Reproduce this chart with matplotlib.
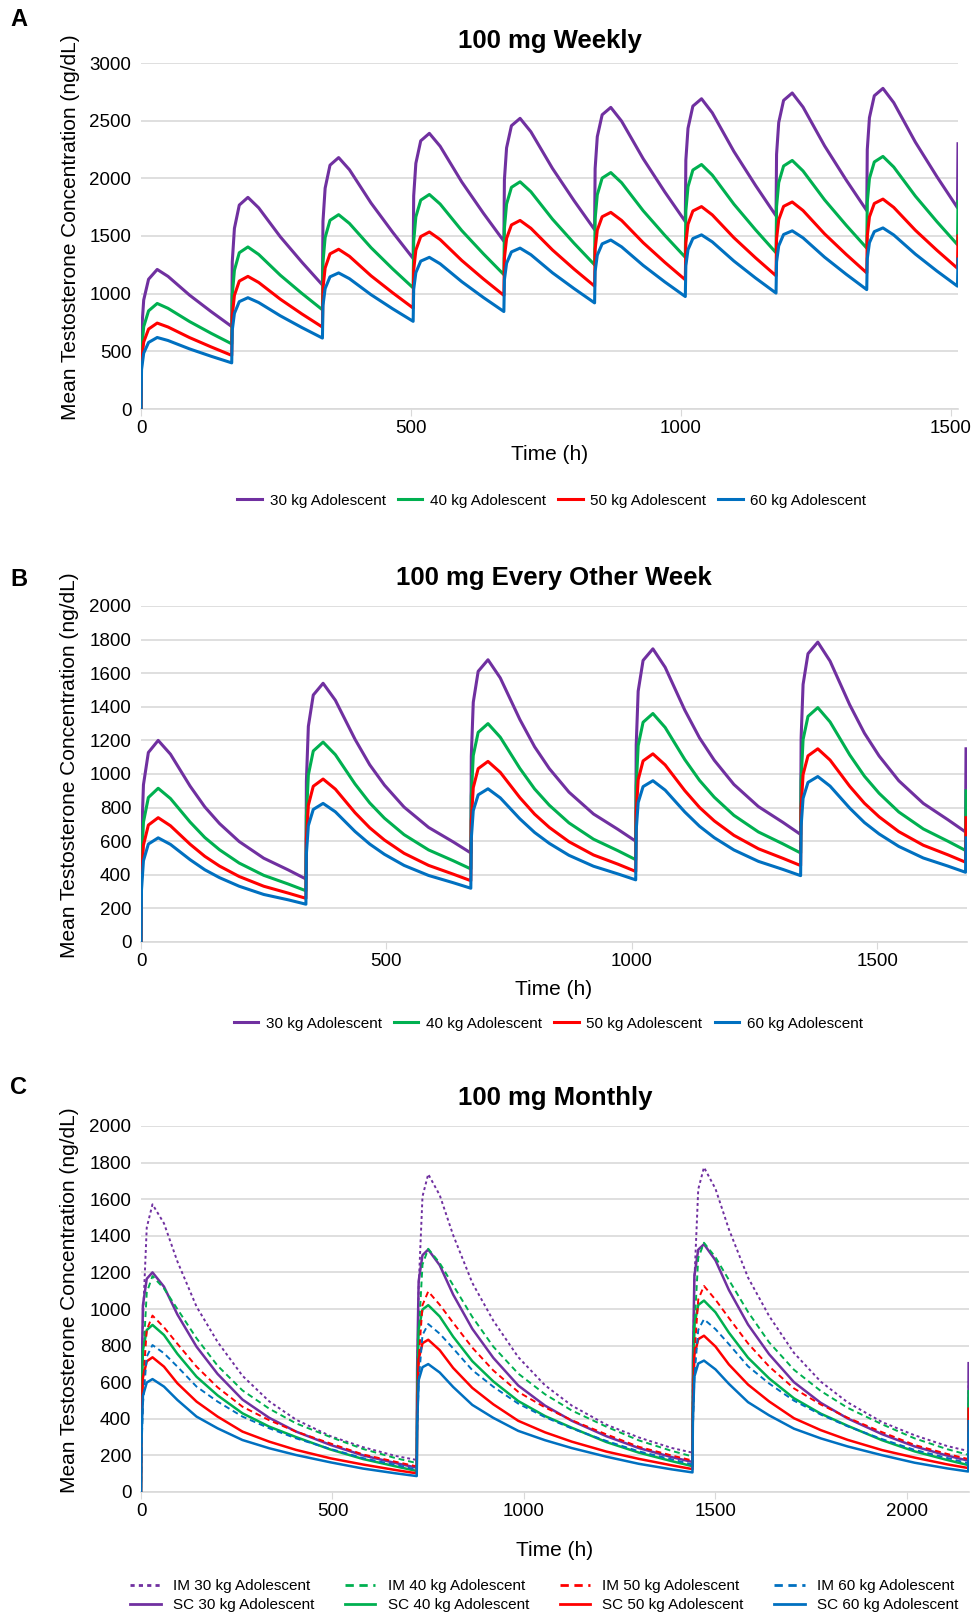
import matplotlib
matplotlib.use("Agg")
import matplotlib.pyplot as plt

plt.rcParams['font.family'] = ['Liberation Sans', 'DejaVu Sans']

colors = ['#7030A0', '#00B050', '#FF0000', '#0070C0']
weights = ['30 kg Adolescent', '40 kg Adolescent', '50 kg Adolescent', '60 kg Adolescent']

# ---- A: 100 mg weekly (doses every 168 h) ----
doses_a = [0, 168, 336, 504, 672, 840, 1008, 1176, 1344]
offs_a = [0, 1, 5, 14, 30, 50, 90, 130]
end_a = [1512, 1513]
a_30 = [0, 665, 945, 1125, 1210, 1150, 987, 844,
        715, 1275, 1566, 1768, 1835, 1744, 1493, 1273,
        1075, 1628, 1915, 2114, 2180, 2075, 1786, 1533,
        1305, 1848, 2130, 2325, 2390, 2278, 1969, 1698,
        1455, 1988, 2264, 2456, 2520, 2404, 2086, 1806,
        1555, 2085, 2361, 2551, 2615, 2496, 2170, 1882,
        1625, 2158, 2434, 2626, 2690, 2568, 2233, 1939,
        1675, 2208, 2484, 2676, 2740, 2618, 2281, 1985,
        1720, 2250, 2526, 2716, 2780, 2656, 2314, 2014,
        1745, 2300]
a_40 = [0, 503, 714, 851, 915, 873, 758, 656,
        565, 985, 1203, 1355, 1405, 1340, 1160, 1002,
        860, 1273, 1487, 1636, 1685, 1609, 1399, 1215,
        1050, 1455, 1666, 1811, 1860, 1777, 1547, 1346,
        1165, 1568, 1777, 1922, 1970, 1884, 1646, 1437,
        1250, 1650, 1858, 2002, 2050, 1962, 1719, 1506,
        1315, 1718, 1927, 2072, 2120, 2028, 1776, 1554,
        1355, 1755, 1963, 2107, 2155, 2064, 1813, 1593,
        1395, 1793, 1999, 2142, 2190, 2098, 1846, 1624,
        1425, 1800]
a_50 = [0, 410, 581, 693, 745, 711, 619, 538,
        465, 808, 986, 1109, 1150, 1097, 952, 824,
        710, 1048, 1223, 1345, 1385, 1324, 1155, 1008,
        875, 1205, 1377, 1495, 1535, 1469, 1288, 1128,
        985, 1310, 1479, 1596, 1635, 1567, 1379, 1213,
        1065, 1385, 1551, 1667, 1705, 1635, 1442, 1272,
        1120, 1438, 1603, 1717, 1755, 1683, 1485, 1311,
        1155, 1475, 1641, 1757, 1795, 1721, 1518, 1340,
        1180, 1500, 1666, 1782, 1820, 1748, 1550, 1376,
        1220, 1500]
a_60 = [0, 341, 484, 577, 620, 594, 521, 457,
        400, 683, 829, 931, 965, 923, 808, 706,
        615, 898, 1044, 1146, 1180, 1130, 991, 869,
        760, 1038, 1182, 1282, 1315, 1259, 1104, 967,
        845, 1120, 1263, 1362, 1395, 1338, 1181, 1044,
        920, 1193, 1334, 1432, 1465, 1406, 1245, 1102,
        975, 1243, 1382, 1478, 1510, 1449, 1283, 1136,
        1005, 1275, 1415, 1513, 1545, 1484, 1316, 1168,
        1035, 1303, 1442, 1538, 1570, 1509, 1343, 1196,
        1065, 1300]

# ---- B: 100 mg every other week (doses every 336 h) ----
doses_b = [0, 336, 672, 1008, 1344]
offs_b = [0, 1, 5, 15, 35, 60, 100, 130, 160, 200, 250, 300]
end_b = [1680, 1681]
b_30 = [0, 600, 936, 1128, 1200, 1118, 928, 804, 705, 598, 499, 429,
        375, 958, 1284, 1470, 1540, 1439, 1207, 1055, 934, 803, 682, 596,
        530, 1105, 1427, 1611, 1680, 1572, 1324, 1162, 1032, 892, 762, 670,
        600, 1173, 1493, 1676, 1745, 1635, 1380, 1215, 1082, 938, 806, 712,
        640, 1213, 1533, 1716, 1785, 1672, 1412, 1243, 1107, 960, 825, 728,
        655, 1150]
b_40 = [0, 458, 714, 860, 915, 854, 714, 622, 549, 470, 397, 345,
        305, 748, 995, 1137, 1190, 1115, 941, 828, 737, 639, 548, 484,
        435, 868, 1110, 1248, 1300, 1219, 1033, 911, 814, 709, 612, 543,
        490, 925, 1169, 1308, 1360, 1277, 1086, 962, 862, 754, 655, 584,
        530, 963, 1205, 1343, 1395, 1310, 1114, 987, 885, 774, 673, 600,
        545, 900]
b_50 = [0, 370, 577, 696, 740, 692, 582, 510, 452, 390, 332, 291,
        260, 615, 814, 927, 970, 910, 770, 680, 607, 528, 456, 404,
        365, 720, 919, 1032, 1075, 1010, 859, 761, 682, 597, 518, 463,
        420, 770, 966, 1078, 1120, 1054, 901, 801, 721, 635, 555, 498,
        455, 803, 997, 1108, 1150, 1083, 927, 826, 745, 657, 576, 519,
        475, 740]
b_60 = [0, 310, 484, 583, 620, 581, 490, 430, 383, 332, 283, 251,
        225, 525, 693, 789, 825, 775, 658, 583, 522, 456, 396, 353,
        320, 616, 782, 876, 912, 858, 733, 652, 587, 516, 451, 405,
        370, 665, 830, 925, 960, 904, 774, 689, 621, 548, 480, 432,
        395, 690, 855, 950, 985, 928, 797, 711, 643, 569, 500, 452,
        415, 620]

# ---- C: 100 mg monthly (doses every 720 h), IM vs SC ----
doses_c = [0, 720, 1440]
offs_c = [0, 1, 5, 15, 30, 60, 95, 145, 200, 265, 335, 405, 495, 580, 665]
end_c = [2160, 2161]
im_30 = [0, 390, 945, 1445, 1572, 1468, 1260, 1013, 820, 635, 495, 395, 305, 245, 197,
         175, 565, 1118, 1615, 1737, 1622, 1404, 1143, 936, 737, 583, 472, 368, 298, 241,
         215, 605, 1158, 1654, 1774, 1657, 1436, 1172, 962, 760, 603, 490, 382, 310, 251,
         224, 605]
im_40 = [0, 290, 700, 1090, 1180, 1112, 1000, 840, 690, 555, 455, 375, 300, 235, 185,
         158, 448, 856, 1243, 1329, 1251, 1130, 957, 794, 647, 534, 445, 357, 282, 225,
         194, 484, 892, 1278, 1362, 1283, 1159, 984, 818, 668, 552, 460, 370, 293, 234,
         203, 484]
im_50 = [0, 240, 580, 885, 964, 900, 810, 685, 572, 466, 392, 330, 265, 205, 165,
         140, 380, 719, 1021, 1096, 1023, 925, 789, 664, 547, 462, 392, 315, 247, 200,
         172, 412, 750, 1052, 1126, 1051, 951, 812, 686, 566, 478, 406, 327, 257, 208,
         180, 412]
im_60 = [0, 200, 480, 740, 803, 758, 685, 576, 494, 412, 348, 293, 235, 185, 148,
         122, 322, 601, 858, 918, 865, 785, 666, 575, 483, 409, 347, 279, 222, 179,
         150, 350, 629, 886, 944, 890, 808, 687, 593, 499, 423, 359, 289, 230, 186,
         157, 350]
sc_30 = [0, 540, 1020, 1165, 1200, 1122, 970, 794, 645, 505, 405, 330, 257, 200, 158,
         133, 673, 1152, 1294, 1325, 1239, 1079, 892, 733, 582, 472, 389, 305, 240, 191,
         164, 704, 1182, 1324, 1354, 1266, 1104, 915, 753, 600, 487, 402, 316, 249, 199,
         171, 704]
sc_40 = [0, 410, 775, 885, 913, 858, 755, 630, 528, 430, 357, 300, 232, 180, 140,
         115, 525, 889, 997, 1021, 959, 849, 715, 604, 497, 415, 351, 273, 215, 169,
         141, 551, 915, 1022, 1046, 982, 871, 734, 621, 512, 428, 362, 283, 222, 175,
         147, 551]
sc_50 = [0, 330, 625, 714, 736, 685, 594, 494, 412, 330, 275, 230, 184, 150, 120,
         102, 432, 726, 813, 832, 775, 678, 569, 479, 389, 326, 275, 221, 181, 146,
         125, 455, 749, 835, 854, 795, 697, 587, 495, 403, 338, 285, 229, 188, 151,
         131, 455]
sc_60 = [0, 280, 525, 598, 617, 576, 503, 412, 348, 284, 239, 202, 162, 128, 102,
         87, 367, 611, 682, 699, 653, 574, 476, 405, 334, 283, 240, 193, 154, 124,
         107, 387, 631, 702, 718, 670, 591, 491, 419, 346, 293, 249, 201, 160, 129,
         112, 387]


def time_grid(doses, offs, end):
    return [d + o for d in doses for o in offs] + end


t_a = time_grid(doses_a, offs_a, end_a)
t_b = time_grid(doses_b, offs_b, end_b)
t_c = time_grid(doses_c, offs_c, end_c)

W, H = 971, 1614
fig = plt.figure(figsize=(W / 100, H / 100), dpi=100)


def make_ax(left, right, top, bottom, xpad):
    ax = fig.add_axes([left / W, 1 - bottom / H, (right - left) / W, (bottom - top) / H])
    ax.grid(axis='y', color='#d9d9d9', linewidth=1.2, zorder=0)
    ax.set_axisbelow(True)
    for s in ['top', 'right', 'left']:
        ax.spines[s].set_visible(False)
    ax.spines['bottom'].set_color('#d9d9d9')
    ax.spines['bottom'].set_linewidth(1.2)
    ax.tick_params(axis='y', length=0, labelsize=13.5, pad=7)
    ax.tick_params(axis='x', length=5, color='#d9d9d9', labelsize=13.5, pad=3)
    ax.set_ylabel('Mean Testosterone Concentration (ng/dL)', fontsize=15)
    ax.yaxis.set_label_coords(-0.075, 0.525)
    ax.set_xlabel('Time (h)', fontsize=15, labelpad=xpad)
    return ax


# panel A
ax = make_ax(141, 958, 63, 409, 6)
for vals, c, lab in zip([a_30, a_40, a_50, a_60], colors, weights):
    ax.plot(t_a, vals, color=c, lw=2.2, label=lab, zorder=3)
ax.set_xlim(0, 1513)
ax.set_ylim(0, 3000)
ax.set_yticks(range(0, 3001, 500))
ax.set_xticks([0, 500, 1000, 1500])
ax.set_title('100 mg Weekly', fontsize=18.5, fontweight='bold', pad=11)
ax.legend(loc='upper center', bbox_to_anchor=(0.503, -0.205), ncol=4, frameon=False,
          fontsize=11, handlelength=1.6, columnspacing=0.8, handletextpad=0.5)
fig.text(10 / W, 1 - 20 / H, 'A', fontsize=17, fontweight='bold', va='center')

# panel B
ax = make_ax(141, 967, 606, 942, 7)
for vals, c, lab in zip([b_30, b_40, b_50, b_60], colors, weights):
    ax.plot(t_b, vals, color=c, lw=2.2, label=lab, zorder=3)
ax.set_xlim(0, 1683)
ax.set_ylim(0, 2000)
ax.set_yticks(range(0, 2001, 200))
ax.set_xticks([0, 500, 1000, 1500])
ax.set_title('100 mg Every Other Week', fontsize=18.5, fontweight='bold', pad=15)
ax.legend(loc='upper center', bbox_to_anchor=(0.493, -0.181), ncol=4, frameon=False,
          fontsize=11, handlelength=1.6, columnspacing=0.8, handletextpad=0.5)
fig.text(10 / W, 1 - 579 / H, 'B', fontsize=17, fontweight='bold', va='center')

# panel C
ax = make_ax(141, 969, 1126, 1492, 15)
handles = []
for im, sc, c, lab in zip([im_30, im_40, im_50, im_60], [sc_30, sc_40, sc_50, sc_60], colors, weights):
    ls = (0, (1.5, 1.5)) if lab.startswith('30') else (0, (3, 2))
    h1, = ax.plot(t_c, im, color=c, lw=1.4, ls=ls, label='IM ' + lab, zorder=3)
    h2, = ax.plot(t_c, sc, color=c, lw=1.8, label='SC ' + lab, zorder=3)
    handles += [h1, h2]
ax.set_xlim(0, 2162)
ax.set_ylim(0, 2000)
ax.set_yticks(range(0, 2001, 200))
ax.set_xticks([0, 500, 1000, 1500, 2000])
ax.set_title('100 mg Monthly', fontsize=18.5, fontweight='bold', pad=15)
leg = ax.legend(handles=handles, loc='upper center', bbox_to_anchor=(0.487, -0.2), ncol=4,
                frameon=False, fontsize=11, handlelength=2.0, columnspacing=2.0,
                handletextpad=0.8, labelspacing=0.35)
for lh in leg.get_lines():
    lh.set_linewidth(2.0)
fig.text(10 / W, 1 - 1087 / H, 'C', fontsize=17, fontweight='bold', va='center')

fig.savefig('out.png', dpi=100)
